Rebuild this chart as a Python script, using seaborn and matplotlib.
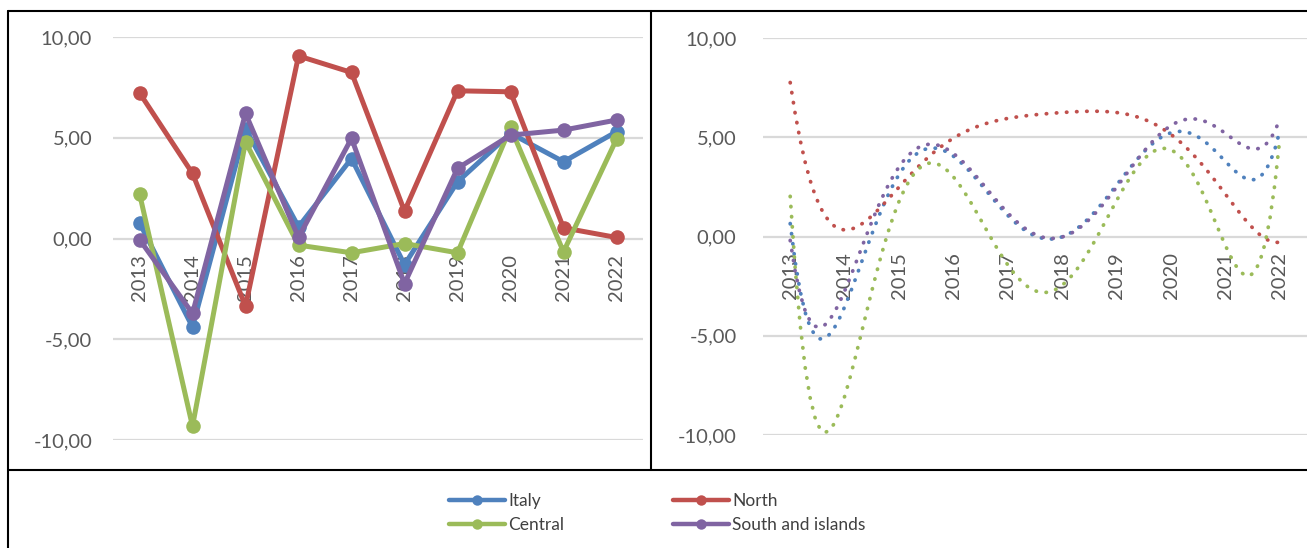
import numpy as np
import pandas as pd
import seaborn as sns
import matplotlib.pyplot as plt
from matplotlib.lines import Line2D

years = ["2013", "2014", "2015", "2016", "2017", "2018", "2019", "2020", "2021", "2022"]
regions = ["Italy", "North", "Central", "South and islands"]

italy = [0.78, -4.39, 5.45, 0.58, 3.97, -1.30, 2.81, 5.22, 3.81, 5.30]
north = [7.23, 3.23, -3.36, 9.06, 8.24, 1.36, 7.33, 7.28, 0.53, 0.05]
central = [2.23, -9.32, 4.80, -0.33, -0.71, -0.25, -0.71, 5.51, -0.66, 4.93]
south = [-0.05, -3.72, 6.21, 0.05, 4.97, -2.24, 3.48, 5.13, 5.38, 5.88]

colors = {"Italy": "#4F81BD", "North": "#C0504D",
          "Central": "#9BBB59", "South and islands": "#8064A2"}

series = {"Italy": italy, "North": north, "Central": central, "South and islands": south}
pos = np.arange(1, len(years) + 1)

df = pd.concat([pd.DataFrame({"pos": pos, "value": v, "region": k})
                for k, v in series.items()], ignore_index=True)

sns.set_style("white")
plt.rcParams["font.family"] = ["Lato", "DejaVu Sans"]

W, H = 1307, 548
fig = plt.figure(figsize=(W / 100, H / 100), dpi=100)

ax1 = fig.add_axes([113 / W, 1 - 440 / H, 530 / W, 403 / H])
ax2 = fig.add_axes([763 / W, 1 - 435 / H, 544 / W, 397 / H])

# left: raw lines with markers
sns.lineplot(data=df, x="pos", y="value", hue="region", hue_order=regions,
             palette=colors, marker="o", markersize=10.5, markeredgewidth=0,
             linewidth=3.6, sort=False, legend=False, ax=ax1, zorder=3)

# right: 6th order polynomial trendlines
for k in regions:
    sns.regplot(x=pos, y=np.array(series[k]), order=6, ci=None, scatter=False,
                truncate=True, color=colors[k], ax=ax2,
                line_kws={"linestyle": (0, (0.1, 2.6)), "linewidth": 2.7,
                          "dash_capstyle": "round", "zorder": 3})


def fmt(v):
    return f"{v:.2f}".replace(".", ",")


for ax, ypad in [(ax1, 15), (ax2, 19)]:
    ax.set_xlim(0.5, 10.5)
    ax.set_ylim(-10, 10)
    ax.spines["bottom"].set_position(("data", 0))
    ax.spines["bottom"].set_color("none")
    for s in ["top", "right", "left"]:
        ax.spines[s].set_visible(False)
    ax.set_yticks([-10, -5, 0, 5, 10])
    ax.set_yticklabels([fmt(v) for v in [-10, -5, 0, 5, 10]])
    ax.set_xticks(pos)
    ax.set_xticklabels(years)
    ax.set_xlabel("")
    ax.set_ylabel("")
    ax.yaxis.grid(True, color="#D9D9D9", linewidth=1.6, zorder=0)
    ax.set_axisbelow(True)
    ax.tick_params(axis="y", length=0, pad=ypad, labelsize=14.5, labelcolor="#595959")
    ax.tick_params(axis="x", length=0, pad=11, labelsize=14.5, labelcolor="#595959",
                   labelrotation=90)
    ax.patch.set_alpha(0)

# frame lines around the panels
def fline(x0, y0, x1, y1):
    fig.add_artist(Line2D([x0 / W, x1 / W], [1 - y0 / H, 1 - y1 / H],
                          color="black", linewidth=1.5, transform=fig.transFigure))


fline(7.5, 10.5, W, 10.5)
fline(7.5, 10.5, 7.5, H)
fline(651, 10.5, 651, 469.5)
fline(7.5, 469.5, W, 469.5)

order = ["Italy", "Central", "North", "South and islands"]
handles = [Line2D([], [], color=colors[k], marker="o", markersize=7.5,
                  markeredgewidth=0, linewidth=3.2) for k in order]
fig.legend(handles, order, ncol=2,
           loc="center", bbox_to_anchor=(0.503, 0.064), frameon=False,
           fontsize=12.5, handlelength=3.2, handletextpad=0.2,
           columnspacing=6.3, labelspacing=0.45, labelcolor="#404040")

fig.savefig("out.png", dpi=100)
